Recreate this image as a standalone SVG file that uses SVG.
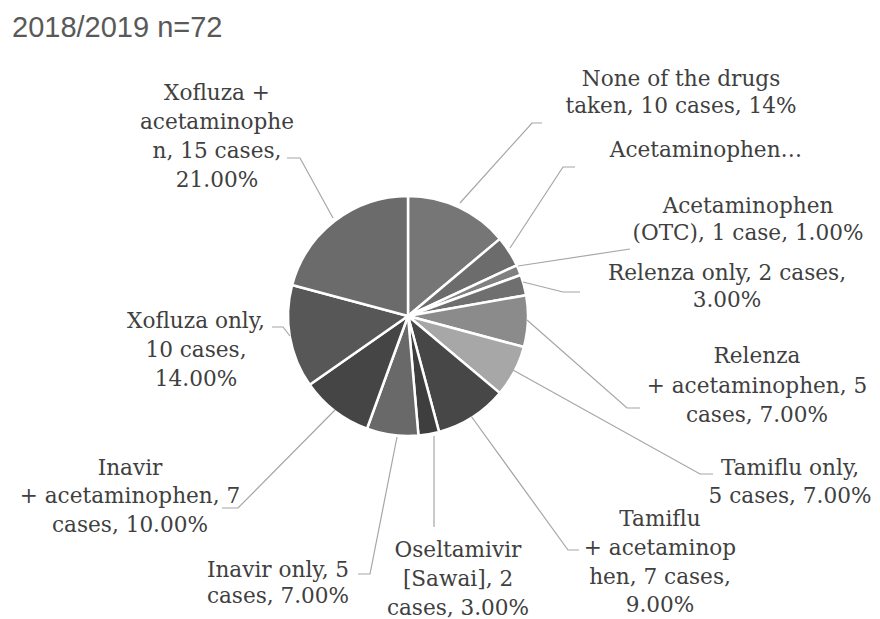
<svg xmlns="http://www.w3.org/2000/svg" width="880" height="619" viewBox="0 0 880 619">
<style>
.s{stroke:#fff;stroke-width:2.5;stroke-linejoin:round}
.l{fill:none;stroke:#a6a6a6;stroke-width:1.2}
.t{font-family:"DejaVu Serif","Liberation Serif",serif;font-size:21.6px;fill:#404040;text-anchor:middle}
.title{font-family:"Liberation Sans",Arial,sans-serif;font-size:29px;fill:#595959}
</style>
<rect width="880" height="619" fill="#fff"/>
<text class="title" x="12" y="37">2018/2019 n=72</text>
<g id="pie">
<g id="slice-none"><path class="s" fill="#767676" d="M408,316 L408,196 A120,120 0 0 1 499.92,238.86 Z"/></g>
<g id="slice-acet"><path class="s" fill="#6c6c6c" d="M408,316 L499.92,238.86 A120,120 0 0 1 516.76,265.29 Z"/></g>
<g id="slice-otc"><path class="s" fill="#808080" d="M408,316 L516.76,265.29 A120,120 0 0 1 520.76,274.96 Z"/></g>
<g id="slice-relenza"><path class="s" fill="#6f6f6f" d="M408,316 L520.76,274.96 A120,120 0 0 1 526.18,295.17 Z"/></g>
<g id="slice-relenza-acet"><path class="s" fill="#8b8b8b" d="M408,316 L526.18,295.17 A120,120 0 0 1 523.91,347.06 Z"/></g>
<g id="slice-tamiflu"><path class="s" fill="#a7a7a7" d="M408,316 L523.91,347.06 A120,120 0 0 1 499.92,393.14 Z"/></g>
<g id="slice-tamiflu-acet"><path class="s" fill="#474747" d="M408,316 L499.92,393.14 A120,120 0 0 1 439.06,431.91 Z"/></g>
<g id="slice-oseltamivir"><path class="s" fill="#3e3e3e" d="M408,316 L439.06,431.91 A120,120 0 0 1 418.46,435.54 Z"/></g>
<g id="slice-inavir"><path class="s" fill="#696969" d="M408,316 L418.46,435.54 A120,120 0 0 1 366.96,428.76 Z"/></g>
<g id="slice-inavir-acet"><path class="s" fill="#454545" d="M408,316 L366.96,428.76 A120,120 0 0 1 309.70,384.83 Z"/></g>
<g id="slice-xofluza"><path class="s" fill="#575757" d="M408,316 L309.70,384.83 A120,120 0 0 1 292.09,285.06 Z"/></g>
<g id="slice-xofluza-acet"><path class="s" fill="#6b6b6b" d="M408,316 L292.09,285.06 A120,120 0 0 1 408,196 Z"/></g>
</g>
<g id="connectors">
<polyline class="l" points="460,203 532,123 542,123"/>
<polyline class="l" points="510,248 563,167 575,167"/>
<polyline class="l" points="518,266 630,249"/>
<polyline class="l" points="523,282 563,292 580,292"/>
<polyline class="l" points="527,320 627,408 640,408"/>
<polyline class="l" points="513,370 700,474 713,474"/>
<polyline class="l" points="471,416 568,550 579,550"/>
<polyline class="l" points="434,436 434,527"/>
<polyline class="l" points="397,437 370,574 358,574"/>
<polyline class="l" points="335,410 238,508 222,508"/>
<polyline class="l" points="290,336 283,327 272,327"/>
<polyline class="l" points="333,218 300,158 287,158"/>
</g>
<g id="label-none"><text class="t" x="681" y="86">None of the drugs</text><text class="t" x="681" y="113">taken, 10 cases, 14%</text></g>
<g id="label-acet"><text class="t" x="706" y="157">Acetaminophen…</text></g>
<g id="label-otc"><text class="t" x="748" y="213">Acetaminophen</text><text class="t" x="748" y="240">(OTC), 1 case, 1.00%</text></g>
<g id="label-relenza"><text class="t" x="727" y="280">Relenza only, 2 cases,</text><text class="t" x="727" y="307">3.00%</text></g>
<g id="label-relenza-acet"><text class="t" x="757" y="363">Relenza</text><text class="t" x="757" y="393">+ acetaminophen, 5</text><text class="t" x="757" y="422">cases, 7.00%</text></g>
<g id="label-tamiflu"><text class="t" x="790" y="475">Tamiflu only,</text><text class="t" x="790" y="503">5 cases, 7.00%</text></g>
<g id="label-tamiflu-acet"><text class="t" x="660" y="526">Tamiflu</text><text class="t" x="660" y="555">+ acetaminop</text><text class="t" x="660" y="584">hen, 7 cases,</text><text class="t" x="660" y="612">9.00%</text></g>
<g id="label-oseltamivir"><text class="t" x="458" y="557">Oseltamivir</text><text class="t" x="458" y="586">[Sawai], 2</text><text class="t" x="458" y="615">cases, 3.00%</text></g>
<g id="label-inavir"><text class="t" x="278" y="577">Inavir only, 5</text><text class="t" x="278" y="603">cases, 7.00%</text></g>
<g id="label-inavir-acet"><text class="t" x="130" y="475">Inavir</text><text class="t" x="130" y="503">+ acetaminophen, 7</text><text class="t" x="130" y="532">cases, 10.00%</text></g>
<g id="label-xofluza"><text class="t" x="196" y="328">Xofluza only,</text><text class="t" x="196" y="357">10 cases,</text><text class="t" x="196" y="386">14.00%</text></g>
<g id="label-xofluza-acet"><text class="t" x="217" y="100">Xofluza +</text><text class="t" x="217" y="129">acetaminophe</text><text class="t" x="217" y="158">n, 15 cases,</text><text class="t" x="217" y="187">21.00%</text></g>
</svg>
